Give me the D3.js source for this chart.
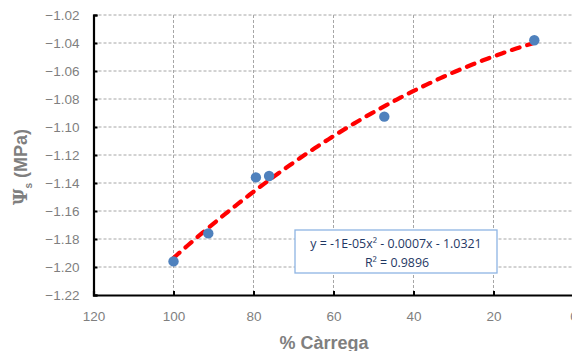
<!DOCTYPE html>
<html><head><meta charset="utf-8">
<script src="https://cdn.jsdelivr.net/npm/d3@7/dist/d3.min.js"></script>
<style>body{margin:0;background:#fff;overflow:hidden}svg{display:block}</style>
</head><body>
<script>
const carrega = [100, 91.3, 79.4, 76.1, 47.3, 9.8];
const psi = [-1.196, -1.176, -1.136, -1.135, -1.0926, -1.038];
const xTicks = [120, 100, 80, 60, 40, 20, 0];
const yTicks = [-1.02, -1.04, -1.06, -1.08, -1.10, -1.12, -1.14, -1.16, -1.18, -1.20, -1.22];
const eqText = "y = -1E-05x\u00B2 - 0.0007x - 1.0321";
const r2Text = "R\u00B2 = 0.9896";

const W = 572, H = 351;
const svg = d3.select("body").append("svg").attr("width", W).attr("height", H);
const x = d3.scaleLinear().domain([120, 0]).range([93.5, 573.5]);
const y = d3.scaleLinear().domain([-1.22, -1.02]).range([295, 15]);

// grid
const g = svg.append("g");
g.selectAll(".hg").data(yTicks.filter(v => v !== -1.22)).enter().append("line")
  .attr("x1", x(120)).attr("x2", x(0)).attr("y1", d => y(d)).attr("y2", d => y(d))
  .attr("stroke", "#a6a6a6").attr("stroke-width", 1).attr("stroke-dasharray", "3,2");
g.selectAll(".vg").data(xTicks.filter(v => v !== 120)).enter().append("line")
  .attr("x1", d => x(d)).attr("x2", d => x(d)).attr("y1", y(-1.02)).attr("y2", y(-1.22))
  .attr("stroke", "#a6a6a6").attr("stroke-width", 1).attr("stroke-dasharray", "3,2");

// axes
const font = "'Liberation Sans', Arial, sans-serif";
const xAxis = d3.axisBottom(x).tickValues(xTicks).tickSize(-4).tickPadding(16).tickFormat(d3.format("d"));
const yAxis = d3.axisLeft(y).tickValues(yTicks).tickSize(-4).tickPadding(14).tickFormat(d3.format(".2f"));
const gx = svg.append("g").attr("transform", `translate(0,${y(-1.22)})`).call(xAxis);
const gy = svg.append("g").attr("transform", `translate(${x(120)},0)`).call(yAxis);
[gx, gy].forEach(a => {
  a.select(".domain").attr("stroke", "#000").attr("stroke-width", 2.2);
  a.selectAll(".tick line").attr("stroke", "#000").attr("stroke-width", 2);
  a.selectAll(".tick text").attr("fill", "#7f7f7f").style("font-family", font).style("font-size", "13.5px");
});

// quadratic least-squares fit
function quadFit(xs, ys) {
  const n = xs.length;
  let S = [0,0,0,0,0], T = [0,0,0];
  for (let i = 0; i < n; i++) {
    const xi = xs[i], yi = ys[i];
    for (let k = 0; k <= 4; k++) S[k] += Math.pow(xi, k);
    for (let k = 0; k <= 2; k++) T[k] += yi * Math.pow(xi, k);
  }
  const M = [[S[0],S[1],S[2],T[0]],[S[1],S[2],S[3],T[1]],[S[2],S[3],S[4],T[2]]];
  for (let i = 0; i < 3; i++) {
    let p = i; for (let r = i+1; r < 3; r++) if (Math.abs(M[r][i]) > Math.abs(M[p][i])) p = r;
    [M[i], M[p]] = [M[p], M[i]];
    for (let r = 0; r < 3; r++) if (r !== i) {
      const f = M[r][i] / M[i][i];
      for (let c = i; c < 4; c++) M[r][c] -= f * M[i][c];
    }
  }
  return [M[0][3]/M[0][0], M[1][3]/M[1][1], M[2][3]/M[2][2]];
}
const [c0, c1, c2] = quadFit(carrega, psi);
const xmin = d3.min(carrega), xmax = d3.max(carrega);
const fitPts = d3.range(0, 101).map(i => { const xv = xmax - (xmax - xmin) * i / 100; return [xv, c0 + c1*xv + c2*xv*xv]; });
svg.append("path").datum(fitPts)
  .attr("d", d3.line().x(d => x(d[0])).y(d => y(d[1])))
  .attr("fill", "none").attr("stroke", "#ff0000").attr("stroke-width", 4.2)
  .attr("stroke-linecap", "round").attr("stroke-dasharray", "8,8");

// points
svg.selectAll(".pt").data(carrega).enter().append("circle")
  .attr("cx", d => x(d)).attr("cy", (d, i) => y(psi[i])).attr("r", 5.2)
  .attr("fill", "#4f81bd");

// equation box
const bx = 295, by = 230, bw = 202, bh = 43;
svg.append("rect").attr("x", bx).attr("y", by).attr("width", bw).attr("height", bh)
  .attr("fill", "#fff").attr("stroke", "#8eb4e3").attr("stroke-width", 1.3);
svg.append("text").attr("x", bx + bw/2).attr("y", by + 18).attr("text-anchor", "middle")
  .attr("fill", "#1f3864").style("font-family", "'Open Sans', sans-serif").style("font-size", "12.4px").text(eqText);
svg.append("text").attr("x", bx + bw/2 + 1).attr("y", by + 37).attr("text-anchor", "middle")
  .attr("fill", "#1f3864").style("font-family", "'Open Sans', sans-serif").style("font-size", "12.4px").text(r2Text);

// axis titles
svg.append("text").attr("x", 324).attr("y", 349).attr("text-anchor", "middle")
  .attr("fill", "#7f7f7f").style("font-family", font).style("font-weight", "bold").style("font-size", "18px")
  .text("% Càrrega");
const yt = svg.append("text").attr("transform", "translate(27,167) rotate(-90)").attr("text-anchor", "middle")
  .attr("fill", "#7f7f7f").style("font-family", font).style("font-weight", "bold").style("font-size", "18px");
yt.append("tspan").style("font-family", "'DejaVu Serif', serif").text("\u03A8");
yt.append("tspan").attr("dy", 5).style("font-size", "10px").text("s");
yt.append("tspan").attr("dy", -5).text(" (MPa)");
</script>
</body></html>
